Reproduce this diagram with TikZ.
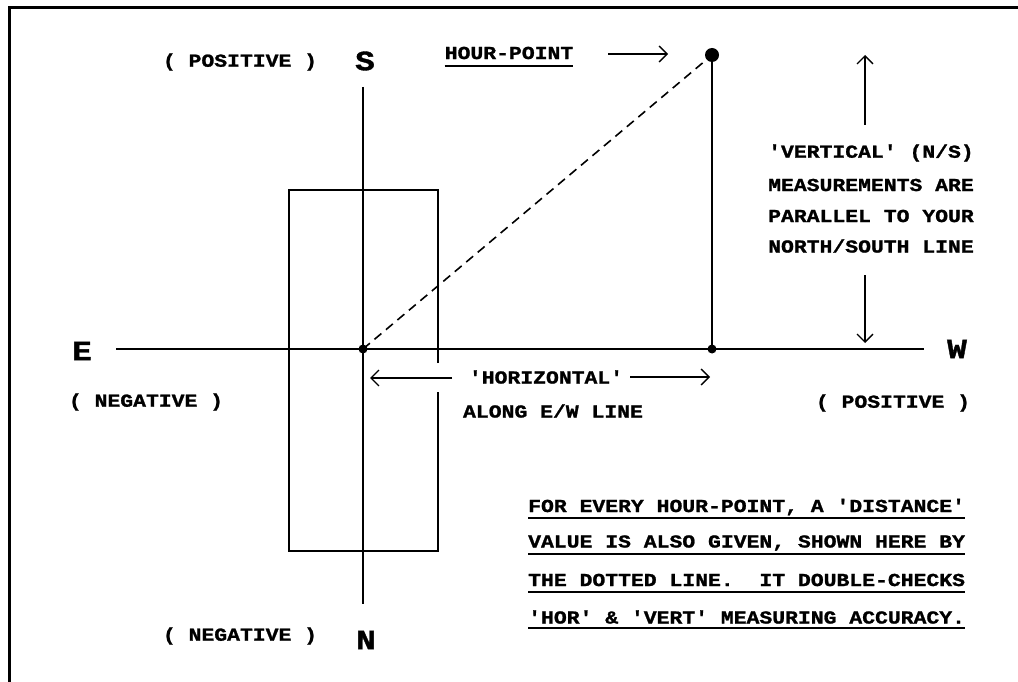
\documentclass[tikz,border=0pt]{standalone}
\usepackage{fontspec}
\usetikzlibrary{arrows.meta}
\newfontfamily\cour[FakeStretch=1.17,FakeBold=1.3,Ligatures=TeXOff]{Liberation Mono}
\tikzset{
  lbl/.style={font=\cour\bfseries\fontsize{18.3}{20}\selectfont\frenchspacing, inner sep=0pt},
  big/.style={font=\cour\bfseries\fontsize{28}{30}\selectfont, inner sep=0pt},
  arr/.style={line width=1.3pt, -{Straight Barb[length=8pt,width=16pt]}},
  axis/.style={line width=1.1pt},
  box/.style={line width=2pt},
  dot/.style={circle, fill=black, inner sep=0pt, minimum size=#1},
  uline/.style={line width=1.6pt},
}
\begin{document}
\begin{tikzpicture}[x=1pt,y=-1pt]
\useasboundingbox (0,0) rectangle (1018,682);
\clip (0,0) rectangle (1018,682);
% frame
\draw[line width=3pt] (9.5,7.5) rectangle (1040,700);

% axes
\coordinate (sTop) at (363,87);
\coordinate (nBot) at (363,604);
\coordinate (eL) at (116,349);
\coordinate (wR) at (924,349);
\draw[axis] (sTop) -- (nBot);
\draw[axis] (eL) -- (wR);

% sundial box with gap on the right side
\coordinate (b1) at (438,363);
\coordinate (b2) at (438,392);
\draw[box] (b1) -- (438,190) -- (289,190) -- (289,551) -- (438,551) -- (b2);

% points
\node[dot=9pt] (o) at (363,349) {};
\node[dot=9pt] (foot) at (712,349) {};
\node[dot=14pt] (hp) at (712,55) {};
\draw[line width=1.8pt] (hp.center) -- (foot.center);
\draw[line width=1.6pt, dash pattern=on 9pt off 6pt] (o.center) -- (hp.center);

% compass letters
\node[big] (S) at (365,61) {S};
\node[big] (N) at (366,640) {N};
\node[big] (E) at (82,351) {E};
\node[big] (W) at (957,349) {W};

% signs
\node[lbl] (sPos) at (240,62) {( POSITIVE )};
\node[lbl] (nNeg) at (240,636) {( NEGATIVE )};
\node[lbl] (eNeg) at (146,402) {( NEGATIVE )};
\node[lbl] (wPos) at (893,403) {( POSITIVE )};

% hour point label
\node[lbl] (hpl) at (509,53) {HOUR-POINT};
\coordinate (hpu) at (0,66);
\draw[uline] (hpl.west |- hpu) -- (hpl.east |- hpu);
\coordinate (ha1) at (608,54);
\coordinate (ha2) at (668,54);
\draw[arr] (ha1) -- (ha2);

% horizontal label
\node[lbl] (hz) at (546,377) {'HORIZONTAL'};
\node[lbl] (along) at (553,411) {ALONG E/W LINE};
\coordinate (hl1) at (452,378);
\coordinate (hl2) at (370,378);
\coordinate (hr1) at (630,377);
\coordinate (hr2) at (710,377);
\draw[arr] (hl1) -- (hl2);
\draw[arr] (hr1) -- (hr2);

% vertical label
\node[lbl, anchor=west] (v1) at (768,153) {'VERTICAL' (N/S)};
\node[lbl, anchor=west] (v2) at (768,185) {MEASUREMENTS ARE};
\node[lbl, anchor=west] (v3) at (768,216) {PARALLEL TO YOUR};
\node[lbl, anchor=west] (v4) at (768,246) {NORTH/SOUTH LINE};
\coordinate (vu1) at (865,125);
\coordinate (vu2) at (865,55);
\coordinate (vd1) at (865,275);
\coordinate (vd2) at (865,343);
\draw[arr] (vu1) -- (vu2);
\draw[arr] (vd1) -- (vd2);

% note block
\node[lbl, anchor=west] (t1) at (528,507) {FOR EVERY HOUR-POINT, A 'DISTANCE'};
\node[lbl, anchor=west] (t2) at (528,543) {VALUE IS ALSO GIVEN, SHOWN HERE BY};
\node[lbl, anchor=west] (t3) at (528,580) {THE DOTTED LINE.\ \ IT DOUBLE-CHECKS};
\node[lbl, anchor=west] (t4) at (528,617) {'HOR' \& 'VERT' MEASURING ACCURACY.};
\coordinate (u1) at (0,518);
\coordinate (u2) at (0,554);
\coordinate (u3) at (0,592);
\coordinate (u4) at (0,628);
\draw[uline] (t1.west |- u1) -- (t1.east |- u1);
\draw[uline] (t2.west |- u2) -- (t2.east |- u2);
\draw[uline] (t3.west |- u3) -- (t3.east |- u3);
\draw[uline] (t4.west |- u4) -- (t4.east |- u4);
\end{tikzpicture}
\end{document}
